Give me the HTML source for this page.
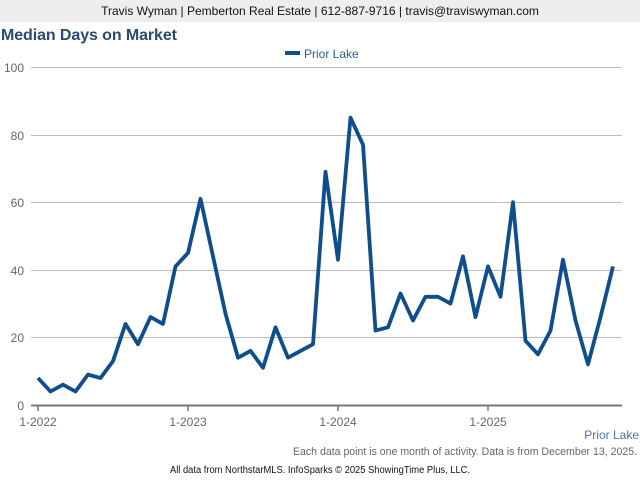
<!DOCTYPE html>
<html><head><meta charset="utf-8"><style>
body{margin:0;width:640px;height:480px;background:#fff;font-family:"Liberation Sans",Arial,sans-serif;overflow:hidden}
</style></head><body>
<svg width="640" height="480" xmlns="http://www.w3.org/2000/svg" font-family="Liberation Sans, Arial, sans-serif">
<rect x="0" y="0" width="640" height="22" fill="#eeeeee"/>
<text x="320" y="15" font-size="12" text-anchor="middle" fill="#111">Travis Wyman | Pemberton Real Estate | 612-887-9716 | travis@traviswyman.com</text>
<text x="1" y="40" font-size="16" font-weight="bold" fill="#2a4a72" textLength="176">Median Days on Market</text>
<rect x="285" y="51" width="15" height="4" fill="#0f4e8c"/>
<text x="304" y="58" font-size="12" fill="#2a5f95">Prior Lake</text>
<g stroke="#bbbbbb" stroke-width="1">
<line x1="31" y1="67.5" x2="622" y2="67.5"/>
<line x1="31" y1="135.5" x2="622" y2="135.5"/>
<line x1="31" y1="202.5" x2="622" y2="202.5"/>
<line x1="31" y1="270.5" x2="622" y2="270.5"/>
<line x1="31" y1="337.5" x2="622" y2="337.5"/>
</g>
<line x1="31" y1="405.5" x2="622" y2="405.5" stroke="#777" stroke-width="2"/>
<g stroke="#777" stroke-width="1.5"><line x1="38" y1="405" x2="38" y2="411"/><line x1="188" y1="405" x2="188" y2="411"/><line x1="338" y1="405" x2="338" y2="411"/><line x1="488" y1="405" x2="488" y2="411"/></g>
<g font-size="12" fill="#666" text-anchor="end">
<text x="24" y="72">100</text><text x="24" y="140">80</text><text x="24" y="207">60</text><text x="24" y="275">40</text><text x="24" y="342">20</text><text x="24" y="410">0</text>
</g>
<g font-size="12" fill="#666" text-anchor="middle">
<text x="38" y="426">1-2022</text><text x="188" y="426">1-2023</text><text x="338" y="426">1-2024</text><text x="488" y="426">1-2025</text>
</g>
<polyline fill="none" stroke="#0f4e8c" stroke-width="3.8" stroke-linejoin="round" points="38,378 50.5,391.5 63,384.7 75.5,391.5 88,374.6 100.5,378 113,361.1 125.5,323.9 138,344.2 150.5,317.1 163,323.9 175.5,266.4 188,252.9 200.5,198.8 213,256.3 225.5,313.7 238,357.7 250.5,350.9 263,367.8 275.5,327.3 288,357.7 300.5,350.9 313,344.2 325.5,171.8 338,259.7 350.5,117.7 363,144.7 375.5,330.6 388,327.3 400.5,293.5 413,320.5 425.5,296.8 438,296.8 450.5,303.6 463,256.3 475.5,317.1 488,266.4 500.5,296.8 513,202.2 525.5,340.8 538,354.3 550.5,330.6 563,259.7 575.5,320.5 588,364.4 600.5,317.1 613,266.4"/>
<text x="639" y="439" font-size="12" fill="#4a76a8" text-anchor="end">Prior Lake</text>
<text x="293" y="455" font-size="11" fill="#666" textLength="344" lengthAdjust="spacingAndGlyphs">Each data point is one month of activity. Data is from December 13, 2025.</text>
<text x="170" y="473" font-size="10" fill="#111" textLength="300" lengthAdjust="spacingAndGlyphs">All data from NorthstarMLS. InfoSparks © 2025 ShowingTime Plus, LLC.</text>
</svg>
</body></html>
